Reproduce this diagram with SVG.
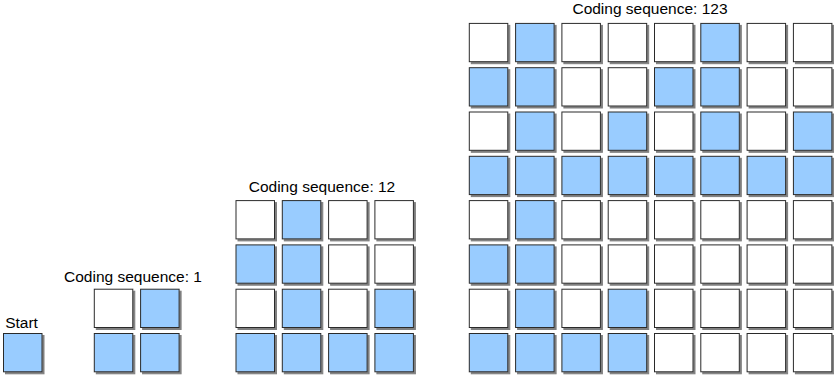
<svg xmlns="http://www.w3.org/2000/svg" width="834" height="377" viewBox="0 0 834 377">
<defs>
<filter id="sh" x="-10%" y="-10%" width="130%" height="130%">
<feOffset in="SourceAlpha" dx="1.5" dy="1.5" result="o"/>
<feFlood flood-color="#7f7f7f"/>
<feComposite in2="o" operator="in"/>
<feMerge><feMergeNode/><feMergeNode in="SourceGraphic"/></feMerge>
</filter>
<symbol id="w" overflow="visible"><rect width="38.5" height="38.3" fill="#ffffff" stroke="#2b2b2b" stroke-width="1"/></symbol>
<symbol id="b" overflow="visible"><rect width="38.5" height="38.3" fill="#99ccff" stroke="#2b2b2b" stroke-width="1"/></symbol>
</defs>
<style>
text{font-family:"Liberation Sans",Arial,sans-serif;font-size:15.5px;fill:#000}
.cells{filter:url(#sh)}
</style>
<rect width="834" height="377" fill="#ffffff"/>

<g id="start">
<text x="21.5" y="328" text-anchor="middle">Start</text>
<g class="cells"><use href="#b" x="3.5" y="333.5"/></g>
</g>

<g id="stage1">
<text x="133" y="282" text-anchor="middle">Coding sequence: 1</text>
<g class="cells">
<use href="#w" x="94.3" y="289.2"/><use href="#b" x="140.6" y="289.2"/>
<use href="#b" x="94.3" y="333.5"/><use href="#b" x="140.6" y="333.5"/>
</g>
</g>

<g id="stage2">
<text x="322" y="192" text-anchor="middle">Coding sequence: 12</text>
<g class="cells">
<use href="#w" x="236" y="200.6"/><use href="#b" x="282.3" y="200.6"/><use href="#w" x="328.6" y="200.6"/><use href="#w" x="374.9" y="200.6"/>
<use href="#b" x="236" y="244.9"/><use href="#b" x="282.3" y="244.9"/><use href="#w" x="328.6" y="244.9"/><use href="#w" x="374.9" y="244.9"/>
<use href="#w" x="236" y="289.2"/><use href="#b" x="282.3" y="289.2"/><use href="#w" x="328.6" y="289.2"/><use href="#b" x="374.9" y="289.2"/>
<use href="#b" x="236" y="333.5"/><use href="#b" x="282.3" y="333.5"/><use href="#b" x="328.6" y="333.5"/><use href="#b" x="374.9" y="333.5"/>
</g>
</g>

<g id="stage3">
<text x="650" y="13.5" text-anchor="middle">Coding sequence: 123</text>
<g class="cells">
<use href="#w" x="469.3" y="23.4"/><use href="#b" x="515.6" y="23.4"/><use href="#w" x="561.9" y="23.4"/><use href="#w" x="608.2" y="23.4"/><use href="#w" x="654.5" y="23.4"/><use href="#b" x="700.8" y="23.4"/><use href="#w" x="747.1" y="23.4"/><use href="#w" x="793.4" y="23.4"/>
<use href="#b" x="469.3" y="67.7"/><use href="#b" x="515.6" y="67.7"/><use href="#w" x="561.9" y="67.7"/><use href="#w" x="608.2" y="67.7"/><use href="#b" x="654.5" y="67.7"/><use href="#b" x="700.8" y="67.7"/><use href="#w" x="747.1" y="67.7"/><use href="#w" x="793.4" y="67.7"/>
<use href="#w" x="469.3" y="112"/><use href="#b" x="515.6" y="112"/><use href="#w" x="561.9" y="112"/><use href="#b" x="608.2" y="112"/><use href="#w" x="654.5" y="112"/><use href="#b" x="700.8" y="112"/><use href="#w" x="747.1" y="112"/><use href="#b" x="793.4" y="112"/>
<use href="#b" x="469.3" y="156.3"/><use href="#b" x="515.6" y="156.3"/><use href="#b" x="561.9" y="156.3"/><use href="#b" x="608.2" y="156.3"/><use href="#b" x="654.5" y="156.3"/><use href="#b" x="700.8" y="156.3"/><use href="#b" x="747.1" y="156.3"/><use href="#b" x="793.4" y="156.3"/>
<use href="#w" x="469.3" y="200.6"/><use href="#b" x="515.6" y="200.6"/><use href="#w" x="561.9" y="200.6"/><use href="#w" x="608.2" y="200.6"/><use href="#w" x="654.5" y="200.6"/><use href="#w" x="700.8" y="200.6"/><use href="#w" x="747.1" y="200.6"/><use href="#w" x="793.4" y="200.6"/>
<use href="#b" x="469.3" y="244.9"/><use href="#b" x="515.6" y="244.9"/><use href="#w" x="561.9" y="244.9"/><use href="#w" x="608.2" y="244.9"/><use href="#w" x="654.5" y="244.9"/><use href="#w" x="700.8" y="244.9"/><use href="#w" x="747.1" y="244.9"/><use href="#w" x="793.4" y="244.9"/>
<use href="#w" x="469.3" y="289.2"/><use href="#b" x="515.6" y="289.2"/><use href="#w" x="561.9" y="289.2"/><use href="#b" x="608.2" y="289.2"/><use href="#w" x="654.5" y="289.2"/><use href="#w" x="700.8" y="289.2"/><use href="#w" x="747.1" y="289.2"/><use href="#w" x="793.4" y="289.2"/>
<use href="#b" x="469.3" y="333.5"/><use href="#b" x="515.6" y="333.5"/><use href="#b" x="561.9" y="333.5"/><use href="#b" x="608.2" y="333.5"/><use href="#w" x="654.5" y="333.5"/><use href="#w" x="700.8" y="333.5"/><use href="#w" x="747.1" y="333.5"/><use href="#w" x="793.4" y="333.5"/>
</g>
</g>
</svg>
